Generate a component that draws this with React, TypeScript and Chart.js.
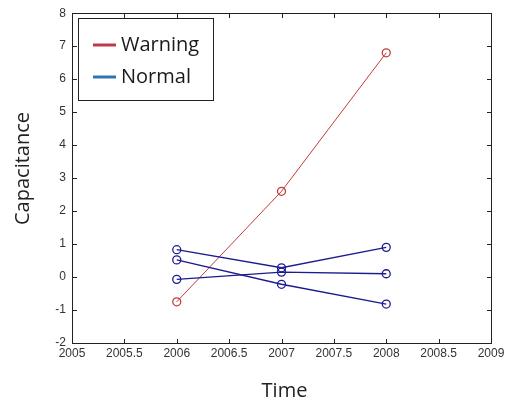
import React, { useEffect, useRef } from "react";
import { Chart, registerables } from "chart.js";

Chart.register(...registerables);

const years = [2006, 2007, 2008];
const warningValues = [-0.75, 2.6, 6.8];
const normalA = [0.83, 0.28, 0.9];
const normalB = [0.52, -0.22, -0.82];
const normalC = [-0.07, 0.15, 0.1];
const xTickValues = [2005, 2005.5, 2006, 2006.5, 2007, 2007.5, 2008, 2008.5, 2009];
const yTickValues = [-2, -1, 0, 1, 2, 3, 4, 5, 6, 7, 8];
const legendLabels = ["Warning", "Normal"];
const legendColors = ["#c0394a", "#2e73b4"];
const xTitle = "Time";
const yTitle = "Capacitance";

const RED = "#c23b3b";
const BLUE = "#1c1c90";
const TITLE_FONT = "20px 'Open Sans', Lato, sans-serif";

const toPoints = (vals: number[]) => years.map((x, i) => ({ x, y: vals[i] }));

const boxPlugin = {
  id: "matlabBox",
  afterDraw(chart: any) {
    const { ctx, chartArea } = chart;
    const left = Math.round(chartArea.left);
    const right = Math.round(chartArea.right);
    const top = Math.round(chartArea.top);
    const bottom = Math.round(chartArea.bottom);
    const xs = chart.scales.x;
    const ys = chart.scales.y;
    ctx.save();
    ctx.fillStyle = "#222";
    // frame
    ctx.fillRect(left, top, right - left + 1, 1);
    ctx.fillRect(left, bottom, right - left + 1, 1);
    ctx.fillRect(left, top, 1, bottom - top + 1);
    ctx.fillRect(right, top, 1, bottom - top + 1);
    // inward ticks
    const tl = 4;
    xTickValues.forEach((v) => {
      const px = Math.round(xs.getPixelForValue(v));
      ctx.fillRect(px, bottom - tl, 1, tl);
      ctx.fillRect(px, top + 1, 1, tl);
    });
    yTickValues.forEach((v) => {
      const py = Math.round(ys.getPixelForValue(v));
      ctx.fillRect(left + 1, py, tl, 1);
      ctx.fillRect(right - tl, py, tl, 1);
    });

    // legend
    const bx = left + 6;
    const by = top + 5;
    const bw = 135;
    const bh = 82;
    ctx.fillStyle = "#fff";
    ctx.fillRect(bx, by, bw, bh);
    ctx.strokeStyle = "#222";
    ctx.lineWidth = 1;
    ctx.strokeRect(bx + 0.5, by + 0.5, bw, bh);
    ctx.font = TITLE_FONT;
    ctx.textBaseline = "alphabetic";
    ctx.textAlign = "left";
    legendLabels.forEach((label, i) => {
      const baseY = by + 33 + i * 32;
      ctx.strokeStyle = legendColors[i];
      ctx.lineWidth = 3;
      ctx.beginPath();
      ctx.moveTo(bx + 15, baseY - 6);
      ctx.lineTo(bx + 38, baseY - 6);
      ctx.stroke();
      ctx.fillStyle = "#1a1a1a";
      ctx.fillText(label, bx + 43, baseY);
    });

    // axis titles
    ctx.fillStyle = "#222";
    ctx.font = TITLE_FONT;
    ctx.textAlign = "center";
    ctx.textBaseline = "alphabetic";
    ctx.fillText(xTitle, (left + right) / 2 + 3, 397);
    ctx.save();
    ctx.translate(29, 168.5);
    ctx.rotate(-Math.PI / 2);
    ctx.fillText(yTitle, 0, 0);
    ctx.restore();
    ctx.restore();
  },
};

function makeDataset(vals: number[], color: string, width: number) {
  return {
    data: toPoints(vals),
    borderColor: color,
    backgroundColor: "rgba(255,255,255,0)",
    borderWidth: width,
    pointRadius: 4,
    pointBorderWidth: 1.3,
    pointBorderColor: color,
    pointBackgroundColor: "rgba(255,255,255,0)",
    pointStyle: "circle",
    showLine: true,
    tension: 0,
  };
}

export default function App() {
  const ref = useRef<HTMLCanvasElement>(null);
  useEffect(() => {
    if (!ref.current) return;
    const tickFont = { family: "'Liberation Sans', Arial, sans-serif", size: 12 };
    const chart = new Chart(ref.current, {
      type: "scatter",
      data: {
        datasets: [
          makeDataset(normalA, BLUE, 1.4),
          makeDataset(normalB, BLUE, 1.4),
          makeDataset(normalC, BLUE, 1.4),
          makeDataset(warningValues, RED, 1),
        ],
      },
      options: {
        animation: false,
        responsive: false,
        maintainAspectRatio: false,
        layout: { padding: { top: 12, right: 22, left: 0, bottom: 0 } },
        plugins: { legend: { display: false }, tooltip: { enabled: false } },
        scales: {
          x: {
            type: "linear",
            min: 2005,
            max: 2009,
            afterBuildTicks: (s: any) => {
              s.ticks = xTickValues.map((v) => ({ value: v }));
            },
            afterFit: (s: any) => {
              s.height = 58;
            },
            grid: { display: false, drawTicks: false, tickLength: 0 },
            border: { display: false },
            ticks: {
              autoSkip: false,
              maxRotation: 0,
              padding: 3,
              color: "#333",
              font: tickFont,
              callback: (v: any) => String(v),
            },
          },
          y: {
            type: "linear",
            min: -2,
            max: 8,
            afterBuildTicks: (s: any) => {
              s.ticks = yTickValues.map((v) => ({ value: v }));
            },
            afterFit: (s: any) => {
              s.width = 72;
            },
            grid: { display: false, drawTicks: false, tickLength: 0 },
            border: { display: false },
            ticks: {
              autoSkip: false,
              padding: 6,
              color: "#333",
              font: tickFont,
              callback: (v: any) => String(v),
            },
          },
        },
      },
      plugins: [boxPlugin],
    } as any);
    return () => chart.destroy();
  }, []);
  return (
    <div style={{ position: "fixed", left: 0, top: 0, width: 513, height: 401, background: "#fff" }}>
      <canvas ref={ref} width={513} height={401} style={{ width: 513, height: 401, display: "block" }} />
    </div>
  );
}
